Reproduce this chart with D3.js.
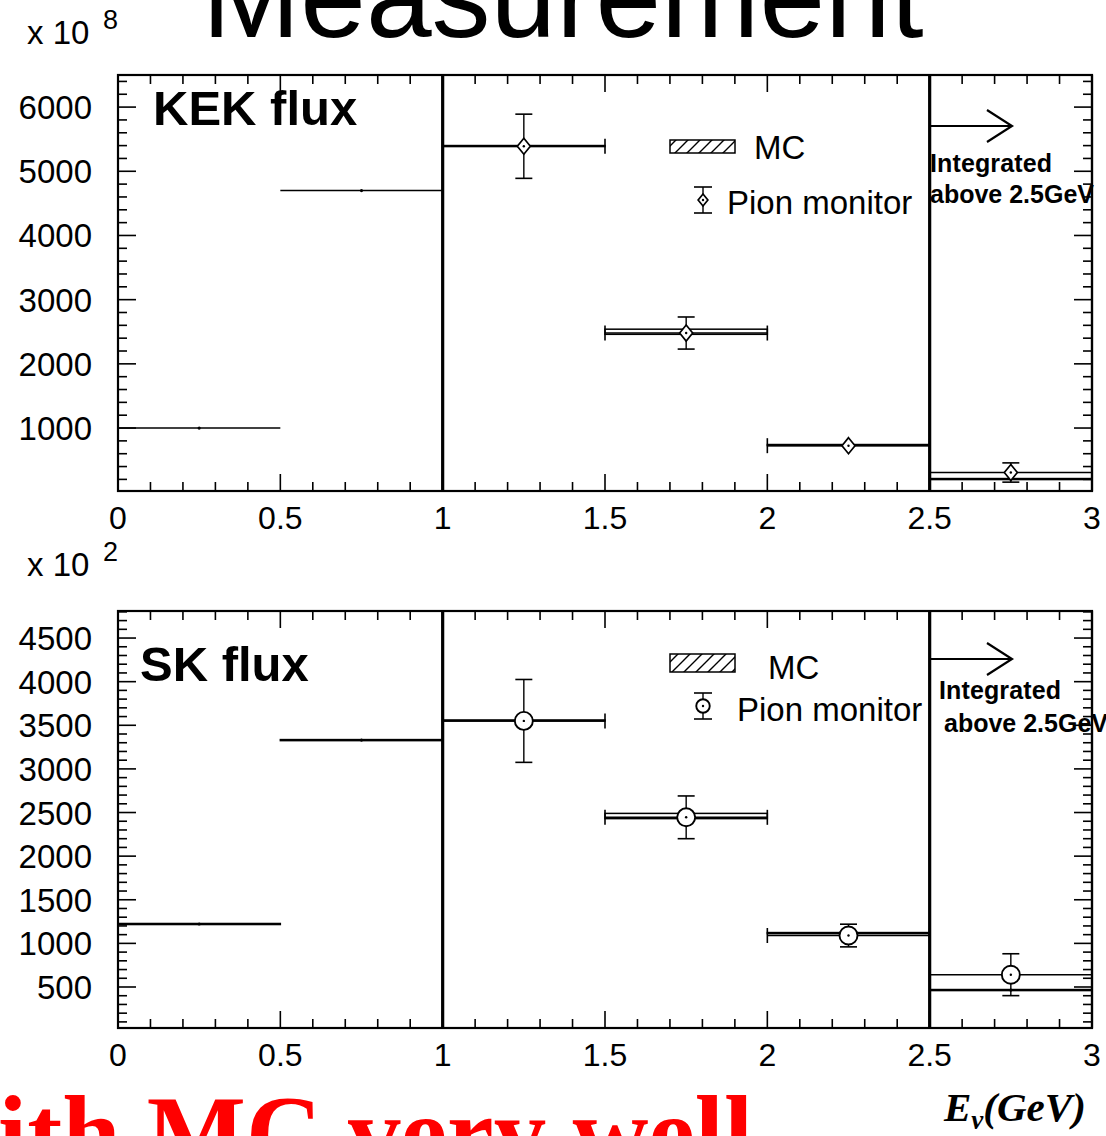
<!DOCTYPE html>
<html>
<head>
<meta charset="utf-8">
<script src="https://cdn.jsdelivr.net/npm/d3@7"></script>
<style>
  body { margin: 0; background: #fff; }
  svg { display: block; }
  .sans { font-family: "Liberation Sans", Arial, Helvetica, sans-serif; }
  .serif { font-family: "Liberation Serif", "Times New Roman", serif; }
</style>
</head>
<body>
<div id="chart"></div>
<script>
// bins in E_nu (GeV)
const binEdges = [0, 0.5, 1, 1.5, 2, 2.5, 3];
const xTickLabels = ["0", "0.5", "1", "1.5", "2", "2.5", "3"];

// KEK flux (x 10^8)
const kekMC = [1000, 4700, 5393, 2500, 735, 205];
const kekMCErr = [0, 0, 8, 40, 8, 8];
const kekPionBins = [2, 3, 4, 5];
const kekPion = [5390, 2480, 725, 307];
const kekPionErr = [500, 250, 60, 150];
const kekYTicks = [1000, 2000, 3000, 4000, 5000, 6000];

// SK flux (x 10^2)
const skMC = [1222, 3330, 3555, 2460, 1118, 465];
const skMCErr = [6, 6, 6, 30, 6, 6];
const skPionBins = [2, 3, 4, 5];
const skPion = [3550, 2445, 1090, 641];
const skPionErr = [475, 245, 130, 240];
const skYTicks = [500, 1000, 1500, 2000, 2500, 3000, 3500, 4000, 4500];

const W = 1106, H = 1136;
const svg = d3.select("#chart").append("svg")
  .attr("width", W).attr("height", H);

// hatch used in the legend box
const defs = svg.append("defs");
const pat = defs.append("pattern")
  .attr("id", "hatch").attr("patternUnits", "userSpaceOnUse")
  .attr("width", 12).attr("height", 12);
pat.append("path").attr("d", "M-1,13 L13,-1 M-4,4 L4,-4 M8,16 L16,8")
  .attr("stroke", "#000").attr("stroke-width", 1.4);

const x = d3.scaleLinear().domain([0, 3]).range([118, 1092]);

function drawPanel(opt) {
  const g = svg.append("g");
  const y = d3.scaleLinear().domain(opt.yDomain).range([opt.bottom, opt.top]);

  // MC bands (outline only, thin bands read as a thick line)
  opt.mc.forEach((v, i) => {
    const e = opt.mcErr[i];
    const x0 = x(binEdges[i]), x1 = x(binEdges[i + 1]);
    if (e > 0) {
      g.append("rect")
        .attr("x", x0).attr("width", x1 - x0)
        .attr("y", y(v + e)).attr("height", y(v - e) - y(v + e))
        .attr("fill", "none").attr("stroke", "#000").attr("stroke-width", 1.5);
    } else {
      g.append("line").attr("x1", x0).attr("x2", x1).attr("y1", y(v)).attr("y2", y(v))
        .attr("stroke", "#000").attr("stroke-width", 1.4);
    }
    g.append("circle")
      .attr("cx", x((binEdges[i] + binEdges[i + 1]) / 2)).attr("cy", y(v))
      .attr("r", 1.6).attr("fill", "#000");
  });

  // pion monitor points
  opt.pionBins.forEach((b, i) => {
    const lo = binEdges[b], hi = binEdges[b + 1], xc = x((lo + hi) / 2);
    const yc = y(opt.pion[i]);
    const yu = y(opt.pion[i] + opt.pionErr[i]), yd = y(opt.pion[i] - opt.pionErr[i]);
    g.append("line").attr("x1", x(lo)).attr("x2", x(hi)).attr("y1", yc).attr("y2", yc)
      .attr("stroke", "#000").attr("stroke-width", 1.6);
    [lo, hi].forEach(e => g.append("line")
      .attr("x1", x(e)).attr("x2", x(e)).attr("y1", yc - 7.5).attr("y2", yc + 7.5)
      .attr("stroke", "#000").attr("stroke-width", 1.6));
    if (yd - yu > 2 * opt.markerHalf + 2) {
      g.append("line").attr("x1", xc).attr("x2", xc).attr("y1", yu).attr("y2", yd)
        .attr("stroke", "#000").attr("stroke-width", 1.4);
      [yu, yd].forEach(yy => g.append("line")
        .attr("x1", xc - 8.5).attr("x2", xc + 8.5).attr("y1", yy).attr("y2", yy)
        .attr("stroke", "#000").attr("stroke-width", 1.6));
    }
    opt.marker(g, xc, yc, 1);
  });

  // vertical separators at 1 and 2.5 GeV
  [1, 2.5].forEach(v => g.append("line")
    .attr("x1", x(v)).attr("x2", x(v)).attr("y1", opt.top).attr("y2", opt.bottom)
    .attr("stroke", "#000").attr("stroke-width", 3.2));

  // frame and ticks
  const ax = g.append("g").attr("stroke", "#000");
  ax.append("rect").attr("x", x(0)).attr("y", opt.top)
    .attr("width", x(3) - x(0)).attr("height", opt.bottom - opt.top)
    .attr("fill", "none").attr("stroke-width", 2.2);

  d3.range(0, 3.0001, 0.1).forEach((t, k) => {
    const len = k % 5 === 0 ? 17 : 9;
    const xx = x(t);
    ax.append("line").attr("x1", xx).attr("x2", xx)
      .attr("y1", opt.bottom).attr("y2", opt.bottom - len).attr("stroke-width", 1.6);
    ax.append("line").attr("x1", xx).attr("x2", xx)
      .attr("y1", opt.top).attr("y2", opt.top + len).attr("stroke-width", 1.6);
  });
  d3.range(Math.ceil(opt.yDomain[0] / opt.minor) * opt.minor, opt.yDomain[1], opt.minor).forEach(t => {
    const major = Math.abs(t % opt.major) < 1e-6;
    const len = major ? 18 : 9;
    const yy = y(t);
    ax.append("line").attr("x1", x(0)).attr("x2", x(0) + len)
      .attr("y1", yy).attr("y2", yy).attr("stroke-width", 1.6);
    ax.append("line").attr("x1", x(3)).attr("x2", x(3) - len)
      .attr("y1", yy).attr("y2", yy).attr("stroke-width", 1.6);
  });

  // tick labels
  g.selectAll(".yl").data(opt.yTicks).join("text")
    .attr("class", "sans").attr("x", 92).attr("y", d => y(d) + 12)
    .attr("text-anchor", "end").attr("font-size", 33).text(d => d);
  g.selectAll(".xl").data(xTickLabels).join("text")
    .attr("class", "sans").attr("x", (d, i) => x(i * 0.5)).attr("y", opt.bottom + 38)
    .attr("text-anchor", "middle").attr("font-size", 32).text(d => d);

  // exponent label
  const ex = g.append("text").attr("class", "sans").attr("x", 27).attr("y", opt.expY);
  ex.append("tspan").attr("font-size", 33).text("x 10");
  ex.append("tspan").attr("font-size", 27).attr("x", 103).attr("dy", -15).text(opt.exp);

  // panel title
  g.append("text").attr("class", "sans").attr("x", opt.titleX).attr("y", opt.titleY)
    .attr("font-size", 49).attr("font-weight", "bold").text(opt.title);

  // legend
  const lg = opt.legend;
  g.append("rect").attr("x", 670).attr("y", lg.boxY).attr("width", 65).attr("height", lg.boxH)
    .attr("fill", "url(#hatch)").attr("stroke", "#000").attr("stroke-width", 1.5);
  g.append("text").attr("class", "sans").attr("x", lg.mcX).attr("y", lg.mcY)
    .attr("font-size", 33).text("MC");
  g.append("line").attr("x1", 703).attr("x2", 703).attr("y1", lg.pmY - 13).attr("y2", lg.pmY + 13)
    .attr("stroke", "#000").attr("stroke-width", 1.4);
  [lg.pmY - 13, lg.pmY + 13].forEach(yy => g.append("line")
    .attr("x1", 694).attr("x2", 712).attr("y1", yy).attr("y2", yy)
    .attr("stroke", "#000").attr("stroke-width", 1.6));
  opt.marker(g, 703, lg.pmY, 0.75);
  g.append("text").attr("class", "sans").attr("x", lg.pmX).attr("y", lg.pmTextY)
    .attr("font-size", 33).text("Pion monitor");

  // integrated arrow + note
  const ay = opt.arrowY;
  g.append("path")
    .attr("d", `M${x(2.5)},${ay} L${1012},${ay} M987,${ay - 16} L1012,${ay} L987,${ay + 16}`)
    .attr("fill", "none").attr("stroke", "#000").attr("stroke-width", 2.2);
  g.append("text").attr("class", "sans").attr("x", opt.intX).attr("y", opt.intY)
    .attr("font-size", 25).attr("font-weight", "bold").attr("textLength", 122).text("Integrated");
  g.append("text").attr("class", "sans").attr("x", opt.aboveX).attr("y", opt.aboveY)
    .attr("font-size", 25).attr("font-weight", "bold").text("above 2.5GeV");

  // redraw right frame edge over text
  ax.append("line").attr("x1", x(3)).attr("x2", x(3)).attr("y1", opt.top).attr("y2", opt.bottom)
    .attr("stroke-width", 2.2);
}

function diamond(g, cx, cy, s) {
  const w = 6.5 * s, h = 8 * s;
  g.append("path")
    .attr("d", `M${cx},${cy - h} L${cx + w},${cy} L${cx},${cy + h} L${cx - w},${cy} Z`)
    .attr("fill", "#fff").attr("stroke", "#000").attr("stroke-width", 1.7);
  g.append("circle").attr("cx", cx).attr("cy", cy).attr("r", 1.2).attr("fill", "#000");
}
function ring(g, cx, cy, s) {
  g.append("circle").attr("cx", cx).attr("cy", cy).attr("r", 9 * s)
    .attr("fill", "#fff").attr("stroke", "#000").attr("stroke-width", 1.9);
  g.append("circle").attr("cx", cx).attr("cy", cy).attr("r", 1.2).attr("fill", "#000");
}

// page title (cut by the top edge)
svg.append("text").attr("class", "sans").attr("x", 202).attr("y", 37)
  .attr("font-size", 118).text("Measurement");

drawPanel({
  top: 75, bottom: 491, yDomain: [19, 6500], major: 1000, minor: 200,
  yTicks: kekYTicks, mc: kekMC, mcErr: kekMCErr,
  pionBins: kekPionBins, pion: kekPion, pionErr: kekPionErr,
  marker: diamond, markerHalf: 8,
  exp: "8", expY: 44, title: "KEK flux", titleX: 153, titleY: 125,
  legend: { boxY: 140, boxH: 13, mcX: 754, mcY: 159, pmY: 200, pmX: 727, pmTextY: 214 },
  arrowY: 126, intX: 930, intY: 172, aboveX: 930, aboveY: 203
});

drawPanel({
  top: 611, bottom: 1028, yDomain: [30, 4810], major: 500, minor: 100,
  yTicks: skYTicks, mc: skMC, mcErr: skMCErr,
  pionBins: skPionBins, pion: skPion, pionErr: skPionErr,
  marker: ring, markerHalf: 9,
  exp: "2", expY: 576, title: "SK flux", titleX: 140, titleY: 681,
  legend: { boxY: 654, boxH: 18, mcX: 768, mcY: 679, pmY: 706, pmX: 737, pmTextY: 721 },
  arrowY: 659, intX: 939, intY: 699, aboveX: 944, aboveY: 732
});

// axis title
const xt = svg.append("text").attr("class", "serif").attr("x", 944).attr("y", 1121)
  .attr("font-weight", "bold").attr("font-style", "italic").attr("font-size", 41);
xt.append("tspan").text("E");
xt.append("tspan").attr("font-size", 27).attr("dy", 8).text("ν");
xt.append("tspan").attr("dy", -8).text("(GeV)");

// red caption cut by the bottom edge
svg.append("text").attr("class", "serif").attr("x", -2).attr("y", 1169)
  .attr("font-size", 105).attr("font-weight", "bold").attr("fill", "#ff0000")
  .text("ith MC very well");
</script>
</body>
</html>
